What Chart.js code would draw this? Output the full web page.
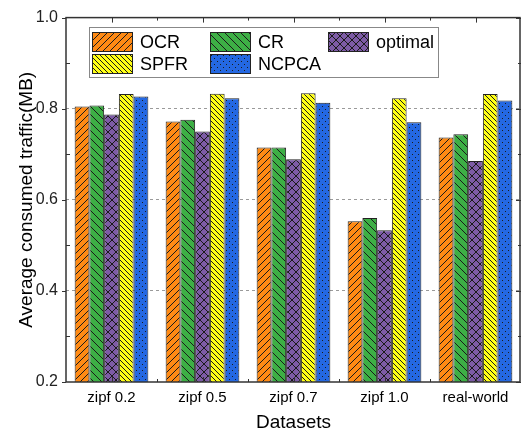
<!DOCTYPE html>
<html>
<head>
<meta charset="utf-8">
<script src="https://cdn.jsdelivr.net/npm/chart.js@4.4.1/dist/chart.umd.min.js"></script>
<style>
  html, body { margin: 0; padding: 0; background: #fff; }
  #wrap { width: 521px; height: 436px; }
</style>
</head>
<body>
<div id="wrap"><canvas id="chart" width="521" height="436"></canvas></div>
<script>
// dados
const datasetsLabels = ['zipf 0.2', 'zipf 0.5', 'zipf 0.7', 'zipf 1.0', 'real-world'];
const ocr     = [0.805, 0.772, 0.715, 0.553, 0.737];
const cr      = [0.807, 0.776, 0.715, 0.560, 0.744];
const optimal = [0.787, 0.750, 0.689, 0.533, 0.685];
const spfr    = [0.832, 0.833, 0.834, 0.823, 0.832];
const ncpca   = [0.827, 0.823, 0.813, 0.770, 0.818];
const yTicks  = [0.2, 0.4, 0.6, 0.8, 1.0];

// padrões de hachura
function makePattern(bg, kind, size) {
  const c = document.createElement('canvas');
  c.width = size; c.height = size;
  const g = c.getContext('2d');
  g.fillStyle = bg;
  g.fillRect(0, 0, size, size);
  g.strokeStyle = '#1a1a1a';
  g.fillStyle = '#1a1a1a';
  g.lineWidth = 1;
  const fwd = () => {
    g.beginPath();
    g.moveTo(-1, size + 1); g.lineTo(size + 1, -1);
    g.moveTo(-1, 1); g.lineTo(1, -1);
    g.moveTo(size - 1, size + 1); g.lineTo(size + 1, size - 1);
    g.stroke();
  };
  const back = () => {
    g.beginPath();
    g.moveTo(-1, -1); g.lineTo(size + 1, size + 1);
    g.moveTo(size - 1, -1); g.lineTo(size + 1, 1);
    g.moveTo(-1, size - 1); g.lineTo(1, size + 1);
    g.stroke();
  };
  if (kind === 'fwd') fwd();
  if (kind === 'back') back();
  if (kind === 'cross') { fwd(); back(); }
  if (kind === 'dots') {
    g.fillRect(1, 1, 1, 1);
    g.fillRect(1 + size / 2, 1 + size / 2, 1, 1);
  }
  return g.createPattern(c, 'repeat');
}

const seriesStyle = [
  { label: 'OCR',     data: ocr,     bg: '#FF8A14', kind: 'fwd',   size: 7 },
  { label: 'CR',      data: cr,      bg: '#3DAF45', kind: 'back',  size: 8 },
  { label: 'optimal', data: optimal, bg: '#7D5BA6', kind: 'cross', size: 8 },
  { label: 'SPFR',    data: spfr,    bg: '#FFFF14', kind: 'back',  size: 5 },
  { label: 'NCPCA',   data: ncpca,   bg: '#2468E2', kind: 'dots',  size: 6 }
];

// legenda dentro da área do gráfico
const insideLegend = {
  id: 'insideLegend',
  afterDraw(chart) {
    const ctx = chart.ctx;
    const box = { x: 89.5, y: 27.5, w: 349, h: 50 };
    const cols = [92, 210, 328];
    const rows = [32, 54];
    ctx.save();
    ctx.fillStyle = '#fff';
    ctx.fillRect(box.x, box.y, box.w, box.h);
    ctx.strokeStyle = '#888';
    ctx.lineWidth = 1;
    ctx.strokeRect(box.x, box.y, box.w, box.h);
    ctx.font = '18px "Liberation Sans", Arial, sans-serif';
    ctx.textBaseline = 'middle';
    chart.data.datasets.forEach((ds, i) => {
      const x = cols[i % 3];
      const y = rows[Math.floor(i / 3)];
      ctx.fillStyle = ds.backgroundColor;
      ctx.fillRect(x, y, 41, 20);
      ctx.strokeStyle = '#222';
      ctx.strokeRect(x + 0.5, y + 0.5, 40, 19);
      ctx.fillStyle = '#000';
      ctx.fillText(ds.label, x + 48, y + 11);
    });
    ctx.restore();
  }
};

// moldura e marcas dos eixos
const frame = {
  id: 'frame',
  afterDatasetsDraw(chart) {
    const { ctx, chartArea: a } = chart;
    const ys = chart.scales.y, xs = chart.scales.x;
    ctx.save();
    ctx.strokeStyle = '#333';
    ctx.lineWidth = 1.5;
    ctx.strokeRect(a.left, a.top, a.right - a.left - 1, a.bottom - a.top);
    ctx.lineWidth = 1;
    ctx.beginPath();
    for (let v = 0.2; v <= 1.0001; v += 0.1) {
      const p = Math.round(ys.getPixelForValue(v)) + 0.5;
      const major = Math.round(v * 10) % 2 === 0;
      if (major) {
        ctx.moveTo(a.left - 4, p); ctx.lineTo(a.left, p);
        ctx.moveTo(a.right - 5, p); ctx.lineTo(a.right, p);
      } else {
        ctx.moveTo(a.left, p); ctx.lineTo(a.left + 4, p);
        ctx.moveTo(a.right - 3, p); ctx.lineTo(a.right, p);
      }
    }
    for (let i = 0; i < datasetsLabels.length; i++) {
      const c = Math.round(xs.getPixelForValue(i)) + 0.5;
      ctx.moveTo(c, a.bottom); ctx.lineTo(c, a.bottom - 5);
      ctx.moveTo(c, a.top); ctx.lineTo(c, a.top + 5);
      const b = Math.round(xs.getPixelForValue(i + 0.5)) + 0.5;
      if (i < datasetsLabels.length - 1) {
        ctx.moveTo(b, a.bottom); ctx.lineTo(b, a.bottom - 3);
        ctx.moveTo(b, a.top); ctx.lineTo(b, a.top + 3);
      }
    }
    ctx.stroke();
    ctx.restore();
  }
};

const ctx = document.getElementById('chart').getContext('2d');
new Chart(ctx, {
  type: 'bar',
  data: {
    labels: datasetsLabels,
    datasets: seriesStyle.map(s => ({
      label: s.label,
      data: s.data,
      backgroundColor: makePattern(s.bg, s.kind, s.size),
      borderColor: '#222',
      borderWidth: 1,
      barPercentage: 1,
      categoryPercentage: 0.81
    }))
  },
  options: {
    responsive: false,
    animation: false,
    layout: { padding: { top: 13, right: 0, left: 0, bottom: 0 } },
    scales: {
      x: {
        grid: { display: false, drawTicks: false },
        border: { display: false },
        ticks: {
          color: '#000',
          padding: 7,
          font: { size: 15, family: '"Liberation Sans", Arial, sans-serif' }
        },
        title: {
          display: true,
          text: 'Datasets',
          color: '#000',
          padding: { top: 0, bottom: 2 },
          font: { size: 19, family: '"Liberation Sans", Arial, sans-serif' }
        },
        afterFit: s => { s.height = 54; }
      },
      y: {
        min: 0.2,
        max: 1.0,
        afterBuildTicks: s => { s.ticks = yTicks.map(v => ({ value: v })); },
        grid: {
          drawTicks: false,
          color: c => (c.tick && (c.tick.value === 0.2 || c.tick.value === 1.0)) ? 'rgba(0,0,0,0)' : '#9a9a9a',
          lineWidth: 1
        },
        border: { display: false, dash: [3, 3] },
        ticks: {
          color: '#222',
          padding: 8,
          callback: v => v.toFixed(1),
          font: { size: 16, family: '"Liberation Sans", Arial, sans-serif' }
        },
        title: {
          display: true,
          text: 'Average consumed traffic(MB)',
          color: '#000',
          padding: { top: 15, bottom: 0 },
          font: { size: 19, family: '"Liberation Sans", Arial, sans-serif' }
        },
        afterFit: s => { s.width = 66; }
      }
    },
    plugins: {
      legend: { display: false },
      tooltip: { enabled: false }
    }
  },
  plugins: [frame, insideLegend]
});
</script>
</body>
</html>
